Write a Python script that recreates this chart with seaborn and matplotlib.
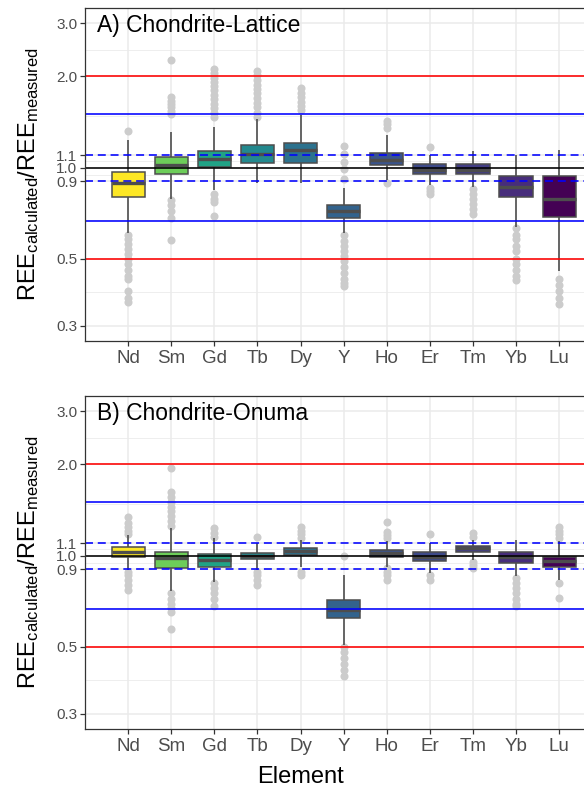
import numpy as np
import pandas as pd
import matplotlib
matplotlib.use("Agg")
import matplotlib.pyplot as plt
import seaborn as sns

# ---------------- data ----------------
elements = ["Nd", "Sm", "Gd", "Tb", "Dy", "Y", "Ho", "Er", "Tm", "Yb", "Lu"]
colors = ["#FDE725", "#6DCD59", "#20A386", "#23898E", "#2C728E", "#33638D",
          "#3A548C", "#3E4A89", "#433E85", "#472D7B", "#440154"]

# Panel A: Chondrite-Lattice  (lower whisker, Q1, median, Q3, upper whisker)
lat_wlo = [0.610, 0.785, 0.842, 0.890, 0.886, 0.607, 0.908, 0.875, 0.863, 0.638, 0.454]
lat_q1  = [0.800, 0.950, 1.005, 1.035, 1.038, 0.683, 1.023, 0.955, 0.950, 0.797, 0.685]
lat_med = [0.890, 1.020, 1.067, 1.110, 1.140, 0.717, 1.060, 0.980, 0.980, 0.863, 0.788]
lat_q3  = [0.965, 1.083, 1.134, 1.190, 1.208, 0.751, 1.120, 1.025, 1.030, 0.941, 0.936]
lat_whi = [1.236, 1.310, 1.360, 1.450, 1.486, 0.853, 1.277, 1.100, 1.134, 1.100, 1.140]
lat_out = {
    "Nd": [1.32, 0.60, 0.58, 0.56, 0.54, 0.52, 0.50, 0.48, 0.46, 0.44, 0.43, 0.39, 0.37, 0.36],
    "Sm": [2.26, 1.71, 1.66, 1.62, 1.58, 1.54, 1.50, 0.78, 0.75, 0.72, 0.68, 0.577],
    "Gd": [2.12, 2.05, 1.98, 1.92, 1.86, 1.80, 1.74, 1.68, 1.62, 1.57, 1.52, 1.47,
           0.82, 0.79, 0.77, 0.69],
    "Tb": [2.09, 2.02, 1.95, 1.88, 1.82, 1.76, 1.70, 1.64, 1.58, 1.52, 1.47],
    "Dy": [1.83, 1.77, 1.71, 1.65, 1.60, 1.55],
    "Y":  [1.18, 1.105, 1.04, 0.987, 0.915, 0.60, 0.57, 0.55, 0.53, 0.51, 0.49, 0.47,
           0.45, 0.43, 0.415, 0.405],
    "Ho": [1.43, 1.39, 1.35, 0.89],
    "Er": [1.17, 0.855, 0.835, 0.82],
    "Tm": [0.85, 0.82, 0.79, 0.76, 0.73, 0.70],
    "Yb": [0.63, 0.60, 0.58, 0.55, 0.53, 0.50, 0.48, 0.46, 0.44, 0.425],
    "Lu": [0.43, 0.41, 0.39, 0.37, 0.355],
}

# Panel B: Chondrite-Onuma
onu_wlo = [0.897, 0.761, 0.821, 0.897, 0.920, 0.508, 0.920, 0.879, 0.968, 0.853, 0.832]
onu_q1  = [0.987, 0.913, 0.915, 0.973, 1.005, 0.622, 0.987, 0.956, 1.025, 0.948, 0.915]
onu_med = [1.031, 0.980, 0.968, 1.000, 1.039, 0.663, 1.018, 0.992, 1.057, 0.992, 0.956]
onu_q3  = [1.065, 1.031, 1.013, 1.023, 1.057, 0.715, 1.044, 1.025, 1.079, 1.031, 0.992]
onu_whi = [1.170, 1.230, 1.140, 1.098, 1.130, 0.864, 1.117, 1.098, 1.130, 1.126, 1.117]
onu_out = {
    "Nd": [1.34, 1.28, 1.24, 1.21, 1.18, 0.885, 0.86, 0.83, 0.80, 0.77],
    "Sm": [1.95, 1.62, 1.56, 1.50, 1.45, 1.40, 1.35, 1.30, 1.25, 0.75, 0.72, 0.69,
           0.67, 0.65, 0.57],
    "Gd": [1.23, 1.19, 1.155, 0.81, 0.78, 0.75, 0.72, 0.68],
    "Tb": [1.155, 0.885, 0.86, 0.83, 0.80],
    "Dy": [1.245, 1.21, 1.175, 1.14, 0.885, 0.865],
    "Y":  [1.00, 0.50, 0.48, 0.46, 0.44, 0.42, 0.40],
    "Ho": [1.29, 1.20, 1.17, 1.14, 0.91, 0.885, 0.86, 0.83],
    "Er": [1.178, 0.865, 0.83],
    "Tm": [1.184, 1.155, 0.955, 0.93, 0.91],
    "Yb": [0.84, 0.81, 0.78, 0.75, 0.72, 0.69, 0.68],
    "Lu": [1.245, 1.21, 1.18, 1.14, 0.81, 0.724],
}

y_breaks = [0.3, 0.5, 0.9, 1.0, 1.1, 2.0, 3.0]
y_labels = ["0.3", "0.5", "0.9", "1.0", "1.1", "2.0", "3.0"]
titles = ["A) Chondrite-Lattice", "B) Chondrite-Onuma"]

# ---------------- style ----------------
sns.set_theme(style="white")
plt.rcParams["font.family"] = ["Liberation Sans", "DejaVu Sans"]
plt.rcParams["mathtext.fontset"] = "custom"
plt.rcParams["mathtext.rm"] = "Liberation Sans"
plt.rcParams["mathtext.it"] = "Liberation Sans:italic"
plt.rcParams["mathtext.bf"] = "Liberation Sans:bold"

palette = dict(zip(elements, colors))


def box_frame(wlo, q1, med, q3, whi):
    rows = []
    for i, el in enumerate(elements):
        for v in (wlo[i], q1[i], med[i], q3[i], whi[i]):
            rows.append((el, v))
    return pd.DataFrame(rows, columns=["Element", "ratio"])


def out_frame(out):
    rows = [(el, v) for el in elements for v in out[el]]
    return pd.DataFrame(rows, columns=["Element", "ratio"])


fig = plt.figure(figsize=(5.84, 7.89), dpi=100)
W, H = 584.0, 789.0
ax_left, ax_w = 85 / W, 500 / W
panels = [
    (8, 341, lat_wlo, lat_q1, lat_med, lat_q3, lat_whi, lat_out),
    (396, 729, onu_wlo, onu_q1, onu_med, onu_q3, onu_whi, onu_out),
]

lo_lim = 0.3 / 10 ** 0.05
hi_lim = 3.0 * 10 ** 0.05

for k, (top, bot, wlo, q1, med, q3, whi, out) in enumerate(panels):
    ax = fig.add_axes([ax_left, 1 - bot / H, ax_w, (bot - top) / H])
    ax.set_yscale("log")

    bdf = box_frame(wlo, q1, med, q3, whi)
    odf = out_frame(out)

    sns.stripplot(data=odf, x="Element", y="ratio", order=elements, jitter=False,
                  color="#CCCCCC", size=5.8, linewidth=0, ax=ax, zorder=2)
    sns.boxplot(data=bdf, x="Element", y="ratio", hue="Element", order=elements,
                hue_order=elements, palette=palette, legend=False, dodge=False,
                whis=(0, 100), showfliers=False, showcaps=False, width=0.77,
                linecolor="#4D4D4D", linewidth=1.1, saturation=1, ax=ax,
                medianprops=dict(linewidth=2.4, color="#4D4D4D", zorder=3.2),
                whiskerprops=dict(linewidth=1.2, color="#4D4D4D"))

    # reference lines
    ax.axhline(2.0, color="#FF0000", lw=1.15, zorder=4)
    ax.axhline(0.5, color="#FF0000", lw=1.15, zorder=4)
    ax.axhline(1.5, color="#0000FF", lw=1.15, zorder=4)
    ax.axhline(1 / 1.5, color="#0000FF", lw=1.15, zorder=4)
    ax.axhline(1.1, color="#0000FF", lw=1.15, ls=(0, (5, 3)), zorder=4)
    ax.axhline(0.9, color="#0000FF", lw=1.15, ls=(0, (5, 3)), zorder=4)
    ax.axhline(1.0, color="black", lw=1.15, zorder=4)

    ax.set_ylim(lo_lim, hi_lim)
    ax.set_xlim(-1, len(elements) - 0.4)

    ax.set_yticks(y_breaks)
    ax.set_yticklabels(y_labels)
    b = np.array(y_breaks)
    ax.set_yticks(np.sqrt(b[:-1] * b[1:]), minor=True)
    ax.yaxis.set_minor_formatter(matplotlib.ticker.NullFormatter())
    ax.set_xticks(range(len(elements)))
    ax.set_xticklabels(elements)

    ax.grid(True, which="major", color="#EBEBEB", lw=1.1, zorder=0)
    ax.grid(True, which="minor", axis="y", color="#EBEBEB", lw=0.6, zorder=0)
    ax.set_axisbelow(True)

    ax.tick_params(axis="y", which="major", length=3.5, width=0.9, color="#333333",
                   labelsize=11, labelcolor="#4D4D4D", pad=2.2, left=True)
    ax.tick_params(axis="y", which="minor", length=0)
    ax.tick_params(axis="x", which="major", length=3.5, width=0.9, color="#333333",
                   labelsize=13.5, labelcolor="#4D4D4D", pad=3.2, bottom=True)

    for s in ax.spines.values():
        s.set_color("#333333")
        s.set_linewidth(0.9)
        s.set_zorder(5)

    ax.set_xlabel("")
    ax.set_ylabel("")

    ax.text(0.0234, 0.929, titles[k], transform=ax.transAxes, fontsize=16.5,
            color="black", ha="left", va="baseline", zorder=6)

    fig.text(28.5 / W, 1 - (top + bot) / 2 / H,
             r"REE$_{\mathrm{calculated}}$/REE$_{\mathrm{measured}}$",
             rotation=90, ha="center", va="center", fontsize=17, color="black")

fig.text(300 / W, 1 - 783 / H, "Element", ha="center", va="baseline",
         fontsize=17, color="black")

fig.savefig("out.png", dpi=100)
